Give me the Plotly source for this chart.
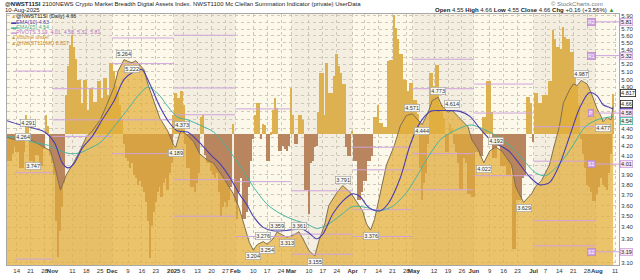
import math
import pandas as pd
import plotly.graph_objects as go

# ---------------- data ----------------
price_dates = ["2024-10-09","2024-10-12","2024-10-16","2024-10-19","2024-10-23","2024-10-28","2024-10-31",
"2024-11-02","2024-11-05","2024-11-08","2024-11-11","2024-11-15","2024-11-18","2024-11-21","2024-11-25","2024-11-28",
"2024-12-02","2024-12-04","2024-12-07","2024-12-09","2024-12-11","2024-12-13","2024-12-14","2024-12-17","2024-12-19",
"2024-12-22","2024-12-25","2024-12-29","2025-01-01","2025-01-02","2025-01-04","2025-01-05","2025-01-08","2025-01-11",
"2025-01-14","2025-01-18","2025-01-21","2025-01-26","2025-01-31","2025-02-03","2025-02-06","2025-02-08","2025-02-10",
"2025-02-12","2025-02-15","2025-02-17","2025-02-20","2025-02-22","2025-02-25","2025-02-27","2025-03-02","2025-03-05",
"2025-03-07","2025-03-10","2025-03-13","2025-03-15","2025-03-18","2025-03-20","2025-03-24","2025-03-27","2025-03-31",
"2025-04-03","2025-04-06","2025-04-08","2025-04-10","2025-04-12","2025-04-15","2025-04-18","2025-04-22","2025-04-25",
"2025-04-28","2025-05-01","2025-05-05","2025-05-06","2025-05-09","2025-05-11","2025-05-14","2025-05-16","2025-05-19",
"2025-05-21","2025-05-24","2025-05-26","2025-05-29","2025-05-31","2025-06-03","2025-06-06","2025-06-09","2025-06-12",
"2025-06-15","2025-06-17","2025-06-20","2025-06-22","2025-06-26","2025-06-30","2025-07-02","2025-07-05","2025-07-09",
"2025-07-11","2025-07-14","2025-07-16","2025-07-19","2025-07-21","2025-07-23","2025-07-25","2025-07-28","2025-07-30",
"2025-08-02","2025-08-04","2025-08-05","2025-08-07","2025-08-09","2025-08-10"]
price_vals = [4.30,4.28,4.264,4.291,4.25,4.19,4.15,
4.00,3.747,3.90,4.00,4.16,4.30,4.37,4.50,4.66,
4.90,5.11,5.264,5.24,5.222,5.25,5.22,5.13,4.94,
4.72,4.52,4.37,4.21,4.189,4.34,4.373,4.32,4.25,
4.12,4.05,4.02,3.87,3.71,3.57,3.40,3.27,3.204,
3.25,3.276,3.254,3.30,3.359,3.33,3.313,3.33,3.361,
3.30,3.20,3.155,3.28,3.43,3.60,3.72,3.791,3.72,
3.63,3.55,3.43,3.376,3.47,3.72,4.00,4.21,4.43,
4.55,4.571,4.47,4.444,4.59,4.73,4.773,4.66,4.59,
4.614,4.54,4.49,4.42,4.27,4.17,4.022,4.15,4.192,
4.15,4.09,4.00,3.78,3.629,3.71,3.78,3.84,4.00,
4.17,4.42,4.70,4.86,4.94,4.92,4.987,4.94,4.83,
4.63,4.54,4.477,4.53,4.50,4.66]

ema10_dates = ["2024-10-09","2024-10-16","2024-10-23","2024-10-28","2024-11-02","2024-11-06","2024-11-09","2024-11-12",
"2024-11-16","2024-11-21","2024-11-26","2024-12-02","2024-12-07","2024-12-12","2024-12-16","2024-12-20","2024-12-25",
"2024-12-30","2025-01-03","2025-01-08","2025-01-14","2025-01-20","2025-01-24","2025-01-29","2025-02-03","2025-02-07",
"2025-02-10","2025-02-15","2025-02-20","2025-02-25","2025-03-02","2025-03-06","2025-03-10","2025-03-14","2025-03-17",
"2025-03-22","2025-03-27","2025-04-01","2025-04-05","2025-04-08","2025-04-11","2025-04-15","2025-04-19","2025-04-25",
"2025-04-30","2025-05-05","2025-05-10","2025-05-15","2025-05-20","2025-05-25","2025-05-30","2025-06-04","2025-06-09",
"2025-06-14","2025-06-19","2025-06-24","2025-06-29","2025-07-04","2025-07-09","2025-07-14","2025-07-19","2025-07-24",
"2025-07-29","2025-08-02","2025-08-05","2025-08-08","2025-08-10"]
ema10_vals = [4.49,4.44,4.40,4.36,4.24,4.02,3.97,4.02,
4.18,4.31,4.50,4.73,5.00,5.10,5.13,4.94,4.66,
4.46,4.37,4.36,4.24,4.10,4.02,3.88,3.71,3.60,
3.50,3.40,3.37,3.37,3.38,3.39,3.35,3.30,3.34,
3.52,3.64,3.71,3.68,3.60,3.56,3.55,3.62,3.87,
4.22,4.47,4.60,4.61,4.61,4.60,4.54,4.40,4.28,
4.21,4.14,4.01,3.88,3.80,3.82,4.00,4.30,4.63,
4.83,4.79,4.68,4.65,4.63]

ema25_dates = ["2024-10-09","2024-10-16","2024-10-23","2024-10-30","2024-11-05","2024-11-10","2024-11-15","2024-11-20",
"2024-11-25","2024-12-02","2024-12-09","2024-12-15","2024-12-19","2024-12-24","2024-12-29","2025-01-03","2025-01-08",
"2025-01-14","2025-01-21","2025-01-28","2025-02-03","2025-02-10","2025-02-17","2025-02-23","2025-03-02","2025-03-09",
"2025-03-14","2025-03-19","2025-03-26","2025-04-01","2025-04-08","2025-04-14","2025-04-21","2025-04-28","2025-05-02",
"2025-05-08","2025-05-15","2025-05-21","2025-05-28","2025-05-31","2025-06-05","2025-06-12","2025-06-19","2025-06-26",
"2025-07-02","2025-07-07","2025-07-14","2025-07-20","2025-07-27","2025-08-02","2025-08-10"]
ema25_vals = [4.31,4.29,4.24,4.21,4.15,4.12,4.13,4.18,
4.24,4.42,4.63,4.82,4.90,4.82,4.66,4.53,4.50,
4.44,4.36,4.18,4.00,3.78,3.61,3.53,3.47,3.43,
3.39,3.42,3.51,3.59,3.58,3.55,3.59,3.72,3.84,
4.05,4.27,4.36,4.43,4.44,4.40,4.32,4.21,4.05,
3.92,3.89,4.01,4.18,4.42,4.50,4.54]

# @NWST110MO daily histogram (relative units), starting 2024-10-09
osc_start = "2024-10-09"
osc_vals = [-15,-28,-28,-20,-12,-18,-18,-35,-35,-18,
20,12,-28,-28,-35,-22,-22,-33,-33,-15,
20,8,-22,-30,-42,-90,-127,-100,-75,-50,
40,70,92,102,90,78,56,56,32,56,
56,25,48,48,33,33,55,55,37,58,
58,40,73,73,65,50,42,30,15,-10,
-25,-28,-35,-30,-42,-45,-52,-48,-55,-60,
-70,-90,-128,-95,-80,-70,-60,-55,-65,-50,
-45,-58,-40,-30,20,43,37,37,45,30,
-10,-35,-35,-55,-55,-60,-50,-40,18,20,
-22,-30,-30,-38,-42,-45,-40,-60,-85,-75,
-70,-75,-68,-55,10,-70,-88,-60,-45,-88,
-88,-80,-55,-28,-5,20,32,32,-5,10,
9,-28,-28,2,25,37,27,-17,-17,-12,
-15,-17,-12,48,20,-10,-10,20,20,15,
-58,-58,-82,-30,-28,-13,-12,23,63,63,
20,73,42,42,42,60,83,70,63,52,
52,-13,-23,-23,3,-28,-28,-68,-68,-60,
-48,-48,-28,-28,-23,18,18,30,12,12,
7,7,75,77,77,123,110,98,83,83,
56,56,45,53,53,35,35,21,-35,-68,
-50,-40,-10,63,63,50,71,71,30,30,
17,-18,-18,10,5,-10,-18,-30,-57,-57,
-25,-30,-62,-62,-65,-65,-18,-18,-23,-23,
18,18,55,55,23,-25,-25,-12,-12,-33,
-33,-33,-42,-42,-35,-118,-118,-68,-68,-68,
-45,-42,38,38,32,-8,43,43,32,32,
40,40,40,55,55,108,98,90,90,88,
111,100,98,98,85,85,61,50,30,-5,
-20,-35,-52,-55,-60,-69,-69,-62,-55,-45,
-52,-55,-58,-40,-20,41]

# monthly pivot levels (start, end, levels)
pivot_starts = ["2024-10-13","2024-11-01","2024-12-01","2025-01-01","2025-02-01","2025-03-01","2025-04-01",
                "2025-05-01","2025-06-01","2025-07-01","2025-08-01"]
pivot_ends = ["2024-11-01","2024-12-01","2025-01-01","2025-02-01","2025-03-01","2025-04-01","2025-05-01",
              "2025-06-01","2025-07-01","2025-08-01","2025-08-13"]
pivot_levels = [[5.11,3.92,3.13],[4.88,4.50,4.31],[5.57,5.21,4.50,4.12],[5.61,4.89,4.56,3.85,3.50],
                [4.63,3.83,3.32],[3.74,3.34,3.17],[4.19,3.95,3.56,3.32],[5.27,4.88,4.12,3.75],
                [4.94,4.58,3.89],[4.42,4.04,3.46,3.24],[5.81,5.32,4.58,4.01,3.19]]
pivot_names = ["R2","R1","P","S1","S2"]

# peak / trough labels
lbl_dates = ["2024-10-16","2024-10-19","2024-11-05","2024-12-07","2024-12-11","2025-01-02","2025-01-05",
             "2025-02-10","2025-02-15","2025-02-17","2025-02-22","2025-02-27","2025-03-05","2025-03-13",
             "2025-03-27","2025-04-10","2025-05-01","2025-05-06","2025-05-14","2025-05-21","2025-06-06",
             "2025-06-12","2025-06-26","2025-07-25","2025-08-05"]
lbl_vals = [4.264,4.291,3.747,5.264,5.222,4.189,4.373,3.204,3.276,3.254,3.359,3.313,3.361,3.155,
            3.791,3.376,4.571,4.444,4.773,4.614,4.022,4.192,3.629,4.987,4.477]
lbl_kind = ["T","P","T","P","T","T","P","T","P","T","P","T","P","T","P","T","P","T","P","P","T","P","T","P","T"]

tick_dates = ["2024-10-14","2024-10-21","2024-10-28","2024-11-01","2024-11-11","2024-11-18","2024-11-25",
"2024-12-01","2024-12-09","2024-12-16","2024-12-23","2025-01-01","2025-01-06","2025-01-13","2025-01-20",
"2025-01-27","2025-02-01","2025-02-10","2025-02-17","2025-02-24","2025-03-01","2025-03-10","2025-03-17",
"2025-03-24","2025-04-01","2025-04-07","2025-04-14","2025-04-21","2025-04-28","2025-05-01","2025-05-12",
"2025-05-19","2025-05-26","2025-06-01","2025-06-09","2025-06-16","2025-06-23","2025-07-01","2025-07-07",
"2025-07-14","2025-07-21","2025-07-28","2025-08-01","2025-08-11"]
tick_text = ["14","21","28","<b>Nov</b>","11","18","25","<b>Dec</b>","9","16","23","<b>2025</b>","6","13","20",
"27","<b>Feb</b>","10","17","24","<b>Mar</b>","10","17","24","<b>Apr</b>","7","14","21","28","&nbsp;&nbsp;<b>May</b>","12",
"19","26","<b>Jun</b>","9","16","23","<b>Jul</b>","7","14","21","28","&nbsp;&nbsp;<b>Aug</b>","11"]
ytick_vals = [round(3.1 + 0.1 * k, 2) for k in range(29)]
# labels hidden behind the value tags on the right axis
ytick_hidden = [5.8, 5.3, 4.8, 4.7, 4.6, 4.5, 4.0, 3.2]

dark_months = [("2024-11-01","2024-12-01"),("2025-01-01","2025-02-01"),("2025-03-01","2025-04-01"),
               ("2025-05-01","2025-06-01"),("2025-07-01","2025-08-01")]

# ---------------- styles ----------------
FONT = "Liberation Sans, Arial, sans-serif"
LIGHT = "#FDF9EA"
DARK = "#F3EEDF"
POS = "#DDB14F"
NEG = "#B8855F"
AREA = "rgba(226,173,58,0.72)"
PLINE = "#7F7052"
C10 = "#4A3FB0"
C25 = "#45B5A0"
PIV = "#CFA3DD"
GRID = "#CFC8B8"

L_PX, R_PX, T_PX, B_PX = 6, 21, 14, 7
W, H = 640, 280
PW, PH = W - L_PX - R_PX, H - T_PX - B_PX
def px(xp): return (xp - L_PX) / PW
def py(yp): return (H - B_PX - yp) / PH

ytick_text = ["" if any(abs(v - h) < 1e-6 for h in ytick_hidden) else "%.2f" % v for v in ytick_vals]

fig = go.Figure()

# histogram (base axis, drawn underneath)
osc_dates = pd.date_range(osc_start, periods=len(osc_vals), freq="D")
fig.add_trace(go.Bar(x=osc_dates, y=osc_vals, yaxis="y",
                     marker=dict(color=[POS if v >= 0 else NEG for v in osc_vals], line=dict(width=0)),
                     width=0.85 * 86400000, hoverinfo="skip"))

# price mountain
fig.add_trace(go.Scatter(x=price_dates, y=[2.5] * len(price_dates), yaxis="y2", mode="lines",
                         line=dict(width=0), hoverinfo="skip"))
fig.add_trace(go.Scatter(x=price_dates, y=price_vals, yaxis="y2", mode="lines", fill="tonexty",
                         fillcolor=AREA, line=dict(color=PLINE, width=1)))

# pivots
for s, e, lv in zip(pivot_starts, pivot_ends, pivot_levels):
    for v in lv:
        fig.add_trace(go.Scatter(x=[s, e], y=[v, v], yaxis="y2", mode="lines",
                                 line=dict(color=PIV, width=1), hoverinfo="skip"))

# EMAs
fig.add_trace(go.Scatter(x=ema25_dates, y=ema25_vals, yaxis="y2", mode="lines",
                         line=dict(color=C25, width=1, shape="spline", smoothing=0.8)))
fig.add_trace(go.Scatter(x=ema10_dates, y=ema10_vals, yaxis="y2", mode="lines",
                         line=dict(color=C10, width=1.1, shape="spline", smoothing=0.8)))

shapes = []
for s, e in dark_months:
    shapes.append(dict(type="rect", xref="x", yref="y", x0=s, x1=e, y0=-135, y1=124,
                       fillcolor=DARK, line=dict(width=0), layer="below"))
shapes.append(dict(type="rect", xref="x", yref="y", x0="2025-08-10 14:00", x1="2025-08-13", y0=-135, y1=124,
                   fillcolor="#FFFDF6", line=dict(width=0), layer="below"))

ann = []
# peak / trough labels
extra = {0: (2, 3), 1: (1, 15), 2: (-27, 24)}
for i, (d, v, k) in enumerate(zip(lbl_dates, lbl_vals, lbl_kind)):
    xs, ys = extra.get(i, (0, 6 if k == "P" else -6))
    ann.append(dict(x=d, y=math.log10(v), xref="x", yref="y2", text="%.3f" % v, showarrow=False,
                    xshift=xs, yshift=ys, font=dict(size=5.5, family=FONT, color="#333"),
                    bgcolor="rgba(250,250,246,0.95)", bordercolor="#9A9A9A", borderwidth=0.6, borderpad=0.6))

# pivot tags inside plot (Aug)
for name, v in zip(pivot_names, pivot_levels[-1]):
    ann.append(dict(x="2025-07-30", y=math.log10(v), xref="x", yref="y2", text=name, showarrow=False,
                    font=dict(size=5, family=FONT, color="white"), bgcolor="#CF9FDD",
                    bordercolor="#B985CC", borderwidth=0.6, borderpad=0.5))

# right axis value tags (value, text, border, fill, small nudge so tags stay readable)
boxes = [(5.81, "5.81", PIV, "#F4E8F8", 0), (5.32, "5.32", PIV, "#F4E8F8", 0),
         (4.817, "4.817", "#222", "#FFFFFF", 1), (4.66, "4.66", "#222", "#FFFFFF", 2),
         (4.63, "4.63", C10, "#ECEAF8", -3), (4.58, "4.58", PIV, "#F4E8F8", 0),
         (4.54, "4.54", C25, "#E6F6F2", -5), (4.01, "4.01", PIV, "#F4E8F8", 0),
         (3.19, "3.19", PIV, "#F4E8F8", 0)]
for v, t, bc, bg, sh in boxes:
    ann.append(dict(x=1, y=math.log10(v), xref="paper", yref="y2", text=t, showarrow=False, xanchor="left",
                    xshift=1, yshift=sh, font=dict(size=5.5, family=FONT, color="#222"), bgcolor=bg,
                    bordercolor=bc, borderwidth=0.8, borderpad=0.3))

# title / header
ann.append(dict(x=px(2), y=py(4), xref="paper", yref="paper", xanchor="left", yanchor="middle", showarrow=False,
                text="<b>@NWST11SI</b> 2100NEWS Crypto Market Breadth Digital Assets Index. NWST1100 Mc Clellan Summation Indicator (private) UserData",
                font=dict(size=6, family=FONT, color="#222")))
ann.append(dict(x=px(2), y=py(10), xref="paper", yref="paper", xanchor="left", yanchor="middle", showarrow=False,
                text="10-Aug-2025", font=dict(size=6, family=FONT, color="#222")))
ann.append(dict(x=px(605), y=py(4), xref="paper", yref="paper", xanchor="right", yanchor="middle", showarrow=False,
                text="© StockCharts.com", font=dict(size=6, family=FONT, color="#777")))
ann.append(dict(x=px(616), y=py(10), xref="paper", yref="paper", xanchor="right", yanchor="middle", showarrow=False,
                text="<b>Open</b> 4.55 <b>High</b> 4.66 <b>Low</b> 4.55 <b>Close</b> 4.66 <b>Chg</b> +0.16 (+3.56%) <span style='color:#2a9a2a'>▲</span>",
                font=dict(size=6, family=FONT, color="#222")))

# legend
leg = [("<span style='color:#D4A040'>▲</span>@NWST11SI (Daily) 4.66", "#222"),
       ("<span style='color:%s'>▬</span>EMA(10) 4.63" % C10, C10),
       ("<span style='color:%s'>▬</span>EMA(25) 4.54" % C25, C25),
       ("<span style='color:%s'>▬</span>PIVOTS 3.19, 4.01, 4.58, 5.32, 5.81" % PIV, "#B070CC"),
       ("<span style='color:#D4A040'>▲</span>Volume undef", "#D08A20"),
       ("<span style='color:#D4A040'>▲</span>@NWST110MO 8.827", "#C88A28")]
for j, (t, c) in enumerate(leg):
    ann.append(dict(x=px(8), y=py(16.5 + 5.4 * j), xref="paper", yref="paper", xanchor="left", yanchor="middle",
                    showarrow=False, text=t, font=dict(size=5.3, family=FONT, color=c)))

fig.update_layout(
    width=W, height=H, margin=dict(l=L_PX, r=R_PX, t=T_PX, b=B_PX),
    paper_bgcolor="white", plot_bgcolor=LIGHT, showlegend=False, bargap=0,
    shapes=shapes, annotations=ann,
    xaxis=dict(type="date", range=["2024-10-09 03:00", "2025-08-13 00:00"], tickvals=tick_dates,
               ticktext=tick_text, tickangle=0, ticks="", tickfont=dict(size=6, family=FONT, color="#333"),
               showgrid=True, gridcolor=GRID, griddash="dot", gridwidth=1, zeroline=False,
               showline=True, linecolor="#A8A8A8", linewidth=1, mirror=True),
    yaxis=dict(range=[-135, 124], visible=False, showgrid=False, zeroline=False),
    yaxis2=dict(type="log", overlaying="y", side="right", range=[0.48884, 0.77304],
                tickvals=ytick_vals, ticktext=ytick_text, ticks="",
                tickfont=dict(size=6, family=FONT, color="#333"), showgrid=True, gridcolor=GRID,
                griddash="dot", gridwidth=1, zeroline=False, showline=True, linecolor="#A8A8A8",
                linewidth=1, mirror=True),
)

fig.write_html("out.html")
